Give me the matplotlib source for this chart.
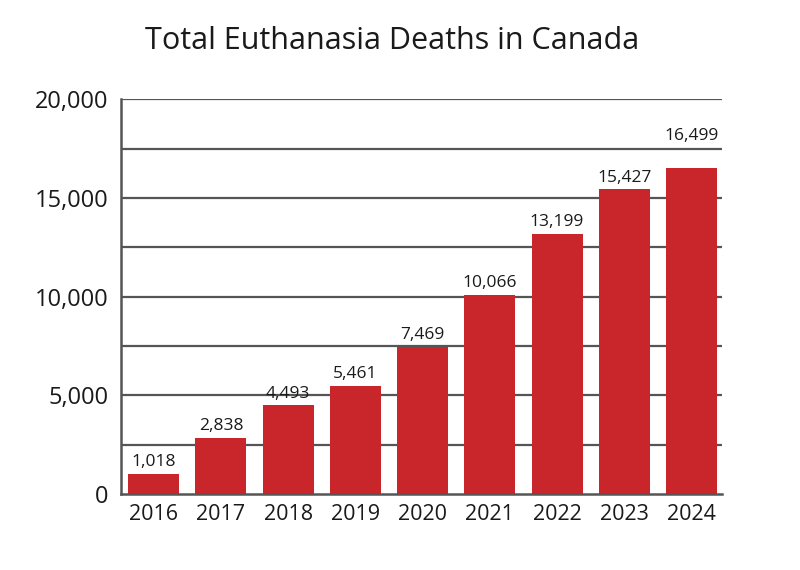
import matplotlib
matplotlib.use("Agg")
import matplotlib.pyplot as plt
import numpy as np

years = ["2016", "2017", "2018", "2019", "2020", "2021", "2022", "2023", "2024"]
deaths = [1018, 2838, 4493, 5461, 7469, 10066, 13199, 15427, 16499]
yticks = [0, 5000, 10000, 15000, 20000]
grid_levels = [2500, 5000, 7500, 10000, 12500, 15000, 17500, 20000]

plt.rcParams['font.family'] = ['Open Sans', 'DejaVu Sans']
txt = '#1a1a1a'

fig = plt.figure(figsize=(8, 5.7), dpi=100)
ax = fig.add_axes([0.151, 0.133, 0.752, 0.693])

x = np.arange(len(years))
for g in grid_levels:
    ax.axhline(g, color='#555555', lw=1.6, zorder=1)
bars = ax.bar(x, deaths, width=0.76, color='#c8262b', zorder=2)

for i, v in enumerate(deaths):
    off = 1250 if i == len(deaths) - 1 else 200
    ax.text(i, v + off, f"{v:,}", ha='center', va='bottom', fontsize=12.5, color=txt)

ax.set_xlim(-0.49, 8.46)
ax.set_ylim(0, 20000)
ax.set_xticks(x)
ax.set_xticklabels(years, fontsize=15.5, color=txt)
ax.set_yticks(yticks)
ax.set_yticklabels([f"{t:,}" for t in yticks], fontsize=17, color=txt)
ax.tick_params(axis='x', length=0, pad=7)
ax.tick_params(axis='y', length=0, pad=9)
for s in ['top', 'right']:
    ax.spines[s].set_visible(False)
for s in ['left', 'bottom']:
    ax.spines[s].set_color('#555555')
    ax.spines[s].set_linewidth(1.8)

fig.suptitle("Total Euthanasia Deaths in Canada", fontsize=22, y=0.955, x=0.49, color=txt)
fig.savefig("out.png")
